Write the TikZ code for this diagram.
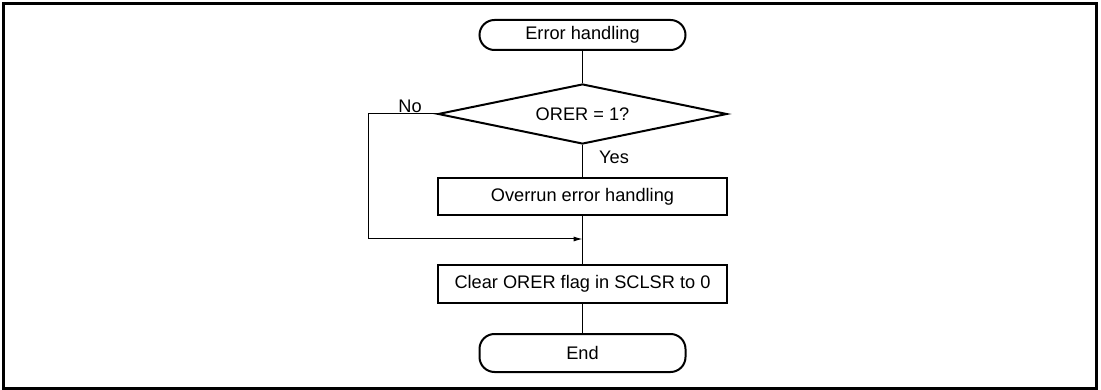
\documentclass[tikz,border=0pt]{standalone}
\usepackage{fontspec}
\setmainfont{Liberation Sans}
\usetikzlibrary{shapes.geometric,arrows.meta}
\begin{document}
\begin{tikzpicture}[x=1pt,y=-1pt,
  every node/.style={font=\fontsize{18.2pt}{21pt}\selectfont},
  term/.style={draw,line width=2pt,rounded corners=15pt,minimum width=206pt,inner sep=0pt},
  procbox/.style={draw,line width=2pt,minimum width=289pt,minimum height=37.5pt,inner sep=0pt},
  decbox/.style={draw,line width=2pt,diamond,aspect=4.8,minimum width=289pt,minimum height=60pt,inner sep=0pt},
  flow/.style={line width=1pt},
  lbl/.style={inner sep=0pt}]
\useasboundingbox (0,0) rectangle (1101,390);
\draw[line width=3pt] (3,4) rectangle (1096,388);
\node[term,minimum height=30pt] (start) at (582.5,35) {Error handling};
\node[decbox] (dec) at (582.5,114) {ORER = 1?};
\node[procbox] (over) at (582.5,196.5) {Overrun error handling};
\node[procbox] (clear) at (582.5,284) {Clear ORER flag in SCLSR to 0};
\node[term,minimum height=38pt] (end) at (582.5,353) {End};
\node[lbl] (no) at (410,106) {No};
\node[lbl] (yes) at (614,157) {Yes};
\coordinate (c1) at (368,114);
\coordinate (c2) at (368,239);
\coordinate (m) at (582.5,239);
\draw[flow] (start) -- (dec);
\draw[flow] (dec) -- (over);
\draw[flow] (over) -- (clear);
\draw[flow] (clear) -- (end);
\draw[flow,-{Latex[length=9pt,width=5pt]}] (dec.west) -- (c1) -- (c2) -- (m);
\end{tikzpicture}
\end{document}
